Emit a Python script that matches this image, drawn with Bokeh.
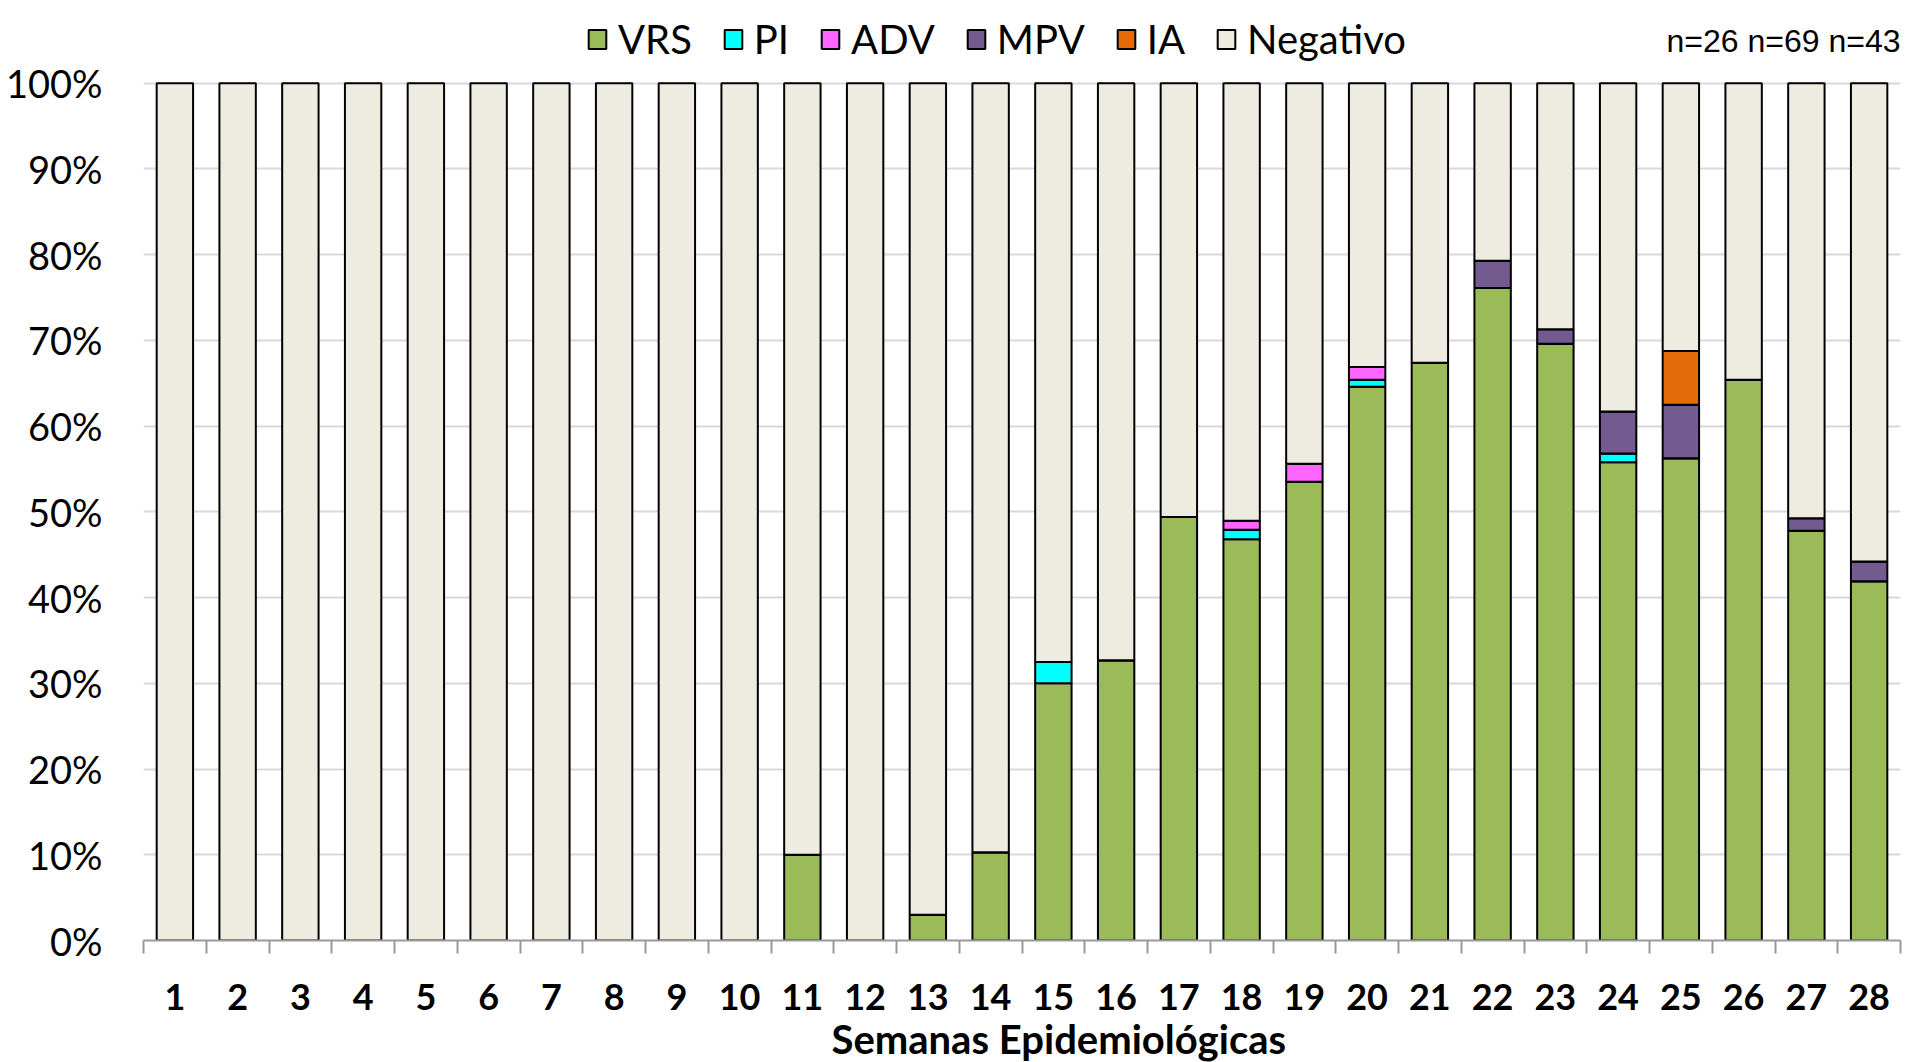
from bokeh.plotting import figure
from bokeh.models import (ColumnDataSource, Range1d, FixedTicker, PrintfTickFormatter,
                          Legend, LegendItem, Label, Title)
from bokeh.embed import file_html
from bokeh.resources import INLINE

# ---------------- data (percent of samples per epidemiological week) ----------------
weeks = list(range(1, 29))
vrs = [0, 0, 0, 0, 0, 0, 0, 0, 0, 0,
       10.0, 0, 3.0, 10.3, 30.0, 32.7, 49.4, 46.8, 53.5, 64.6,
       67.4, 76.1, 69.6, 55.8, 56.25, 65.4, 47.8, 41.9]
pi = [0, 0, 0, 0, 0, 0, 0, 0, 0, 0,
      0, 0, 0, 0, 2.5, 0, 0, 1.1, 0, 0.8,
      0, 0, 0, 1.0, 0, 0, 0, 0]
adv = [0, 0, 0, 0, 0, 0, 0, 0, 0, 0,
       0, 0, 0, 0, 0, 0, 0, 1.05, 2.1, 1.5,
       0, 0, 0, 0, 0, 0, 0, 0]
mpv = [0, 0, 0, 0, 0, 0, 0, 0, 0, 0,
       0, 0, 0, 0, 0, 0, 0, 0, 0, 0,
       0, 3.2, 1.7, 4.9, 6.25, 0, 1.45, 2.3]
ia = [0, 0, 0, 0, 0, 0, 0, 0, 0, 0,
      0, 0, 0, 0, 0, 0, 0, 0, 0, 0,
      0, 0, 0, 0, 6.25, 0, 0, 0]
negativo = [round(100 - (a + b + c + d + e), 3) for a, b, c, d, e in zip(vrs, pi, adv, mpv, ia)]

series_names = ["VRS", "PI", "ADV", "MPV", "IA", "Negativo"]
series_colors = ["#9BBB59", "#00FFFF", "#FF66FF", "#735A8F", "#E36C09", "#EEECE1"]
y_ticks = [0, 10, 20, 30, 40, 50, 60, 70, 80, 90, 100]
x_title = "Semanas Epidemiológicas"
n_note = "n=26 n=69 n=43"

source = ColumnDataSource(dict(week=weeks, VRS=vrs, PI=pi, ADV=adv, MPV=mpv, IA=ia, Negativo=negativo))

W, H = 1907, 1062
# frame spans the full top of the canvas so the legend/note above 100% stay visible
p = figure(width=W, height=H, output_backend="svg", toolbar_location=None,
           x_range=Range1d(0.5, 28.5), y_range=Range1d(0, 109.65),
           min_border_left=143, min_border_right=7, min_border_top=0, min_border_bottom=122)
p.outline_line_color = None
p.background_fill_color = "white"
p.border_fill_color = "white"

renderers = p.vbar_stack(series_names, x="week", width=0.58, source=source,
                         color=series_colors, line_color="black", line_width=2)

# grid
p.xgrid.grid_line_color = None
p.ygrid.ticker = FixedTicker(ticks=y_ticks)
p.ygrid.grid_line_color = "#d9d9d9"
p.ygrid.grid_line_width = 2

# y axis
p.yaxis.ticker = FixedTicker(ticks=y_ticks)
p.yaxis.formatter = PrintfTickFormatter(format="%d%%")
p.yaxis.axis_line_color = None
p.yaxis.major_tick_line_color = None
p.yaxis.minor_tick_line_color = None
p.yaxis.major_tick_out = 0
p.yaxis.major_tick_in = 0
p.yaxis.major_label_standoff = 41
p.yaxis.major_label_text_font = "Lato"
p.yaxis.major_label_text_font_size = "38px"
p.yaxis.major_label_text_color = "black"

# x axis: labels at centers, tick marks at category boundaries (minor ticks)
boundaries = [w + 0.5 for w in [0] + weeks]
p.xaxis.ticker = FixedTicker(ticks=weeks, minor_ticks=boundaries)
p.xaxis.axis_line_color = "#9a9a9a"
p.xaxis.axis_line_width = 2
p.xaxis.major_tick_line_color = None
p.xaxis.major_tick_out = 0
p.xaxis.major_tick_in = 0
p.xaxis.minor_tick_line_color = "#9a9a9a"
p.xaxis.minor_tick_line_width = 2
p.xaxis.minor_tick_out = 13
p.xaxis.minor_tick_in = 0
p.xaxis.major_label_standoff = 30
p.xaxis.major_label_text_font = "Lato"
p.xaxis.major_label_text_font_style = "bold"
p.xaxis.major_label_text_font_size = "36px"
p.xaxis.major_label_text_color = "black"

# axis title (as a below-title so it can sit slightly right of centre, like the reference)
xt = Title(text=x_title, align="left", offset=688, standoff=0,
           text_font="Lato", text_font_style="bold", text_font_size="40px", text_color="black")
p.add_layout(xt, "below")

# legend (inside the frame, above the 100% line)
items = [LegendItem(label=name, renderers=[r]) for name, r in zip(series_names, renderers)]
legend = Legend(items=items, orientation="horizontal", location=(443, 877),
                label_text_font="Lato", label_text_font_size="40px", label_text_color="black",
                glyph_width=22, glyph_height=24, label_standoff=10, spacing=30,
                padding=0, margin=0, border_line_color=None, background_fill_alpha=0)
p.add_layout(legend, "center")

# sample-size note
note = Label(x=1757, y=900, x_units="screen", y_units="screen", text=n_note,
             text_align="right", text_baseline="middle", text_font="Liberation Sans",
             text_font_size="32px", text_color="black")
p.add_layout(note)

open("out.html", "w").write(file_html(p, INLINE))
